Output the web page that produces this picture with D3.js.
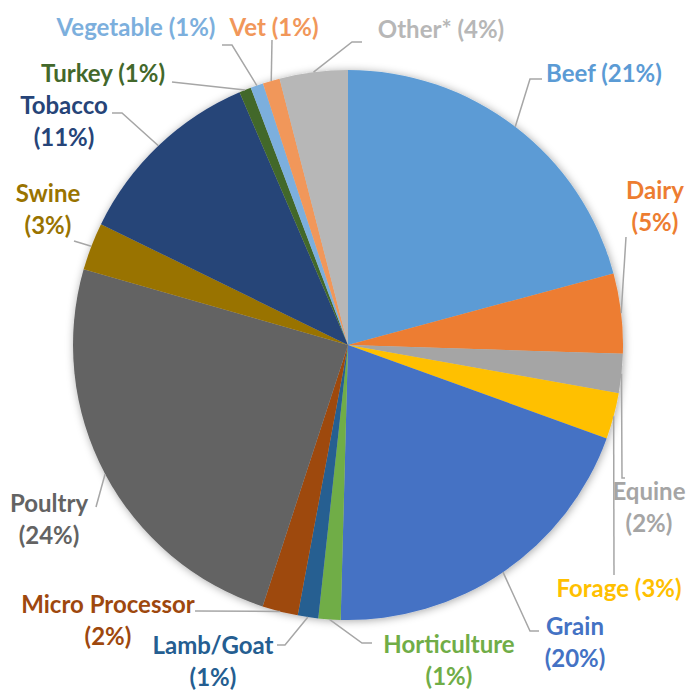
<!DOCTYPE html>
<html>
<head>
<meta charset="utf-8">
<script src="https://cdn.jsdelivr.net/npm/d3@7"></script>
<style>
  html, body { margin: 0; padding: 0; background: #fff; }
  svg text { font-family: Lato, "Open Sans", sans-serif; font-weight: bold; }
</style>
</head>
<body>
<div id="chart"></div>
<script>
// slices, clockwise from 12 o'clock
var categories = ["Beef", "Dairy", "Equine", "Forage", "Grain", "Horticulture", "Lamb/Goat",
    "Micro Processor", "Poultry", "Swine", "Tobacco", "Turkey", "Vegetable", "Vet", "Other*"];
var shares = [20.8, 4.7, 2.3, 2.7, 19.9, 1.3, 1.2, 2.1, 24.4, 2.8, 11.3, 0.7, 0.75, 1.0, 4.0];
var colors = ["#5B9BD5", "#ED7D31", "#A5A5A5", "#FFC000", "#4472C4", "#70AD47", "#255E91",
    "#9E480E", "#636363", "#997300", "#264478", "#43682B", "#7CAFDD", "#F1975A", "#B7B7B7"];

// label placement (centre of first text line), split = name and pct on two lines
var labelLayout = {
    "Beef":            {x: 604, y: 72,  split: false, leader: [[530, 79], [542, 79]]},
    "Dairy":           {x: 655, y: 189, split: true,  leader: [[626, 237]]},
    "Equine":          {x: 649, y: 490, split: true,  leader: [[622, 478], [625, 478]]},
    "Forage":          {x: 619, y: 587, split: false, leader: [[614, 575]]},
    "Grain":           {x: 575, y: 625, split: true,  leader: [[530, 631], [539, 631]]},
    "Horticulture":    {x: 449, y: 643, split: true,  leader: [[362, 643], [372, 643]]},
    "Lamb/Goat":       {x: 213, y: 644, split: true,  leader: [[285, 645], [277, 645]]},
    "Micro Processor": {x: 108, y: 603, split: true,  leader: [[195, 611]]},
    "Poultry":         {x: 49,  y: 502, split: true,  leader: [[96, 507]]},
    "Swine":           {x: 48,  y: 192, split: true,  leader: [[74, 241]]},
    "Tobacco":         {x: 64,  y: 104, split: true,  leader: [[122, 113], [112, 113]]},
    "Turkey":          {x: 103, y: 72,  split: false, leader: [[172, 82], [172, 82]]},
    "Vegetable":       {x: 136, y: 26,  split: false, leader: [[232, 45], [222, 45]]},
    "Vet":             {x: 274, y: 26,  split: false, leader: [[272, 40]]},
    "Other*":          {x: 441, y: 28,  split: false, leader: [[352, 42], [362, 42]]}
};

var width = 688, height = 690;
var cx = 348, cy = 345, radius = 275;
var fontSize = 24, lineGap = 32;

var data = categories.map(function(c, i){ return {name: c, v: shares[i], color: colors[i]}; });
var total = d3.sum(shares);

var svg = d3.select("#chart").append("svg")
    .attr("width", width).attr("height", height);

var defs = svg.append("defs");
var flt = defs.append("filter").attr("id", "pieShadow")
    .attr("x", "-10%").attr("y", "-10%").attr("width", "120%").attr("height", "120%");
flt.append("feDropShadow").attr("dx", 1).attr("dy", 1)
    .attr("stdDeviation", 4).attr("flood-color", "#000").attr("flood-opacity", 0.35);

var pie = d3.pie().sort(null).value(function(d){ return d.v; });
var arcs = pie(data);
var arc = d3.arc().innerRadius(0).outerRadius(radius);
var edge = d3.arc().innerRadius(radius).outerRadius(radius);

var g = svg.append("g").attr("transform", "translate(" + cx + "," + cy + ")");

g.append("g").attr("filter", "url(#pieShadow)")
    .selectAll("path").data(arcs)
    .enter().append("path")
    .attr("d", arc)
    .attr("fill", function(d){ return d.data.color; });

// leader lines
var line = d3.line();
svg.append("g").attr("class", "leaders").selectAll("path").data(arcs)
    .enter().append("path")
    .attr("d", function(d){
        var c = edge.centroid(d);
        var pts = [[cx + c[0], cy + c[1]]].concat(labelLayout[d.data.name].leader);
        return line(pts);
    })
    .attr("fill", "none")
    .attr("stroke", "#A6A6A6")
    .attr("stroke-width", 1.5);

// labels
var labels = svg.append("g").attr("class", "labels").selectAll("text").data(arcs)
    .enter().append("text")
    .attr("fill", function(d){ return d.data.color; })
    .attr("font-size", fontSize)
    .attr("text-anchor", "middle")
    .attr("dominant-baseline", "central");

labels.each(function(d){
    var L = labelLayout[d.data.name];
    var pct = "(" + Math.round(d.data.v / total * 100) + "%)";
    var t = d3.select(this);
    if (L.split) {
        t.append("tspan").attr("x", L.x).attr("y", L.y).text(d.data.name);
        t.append("tspan").attr("x", L.x).attr("y", L.y + lineGap).text(pct);
    } else {
        t.append("tspan").attr("x", L.x).attr("y", L.y).text(d.data.name + " " + pct);
    }
});
</script>
</body>
</html>
